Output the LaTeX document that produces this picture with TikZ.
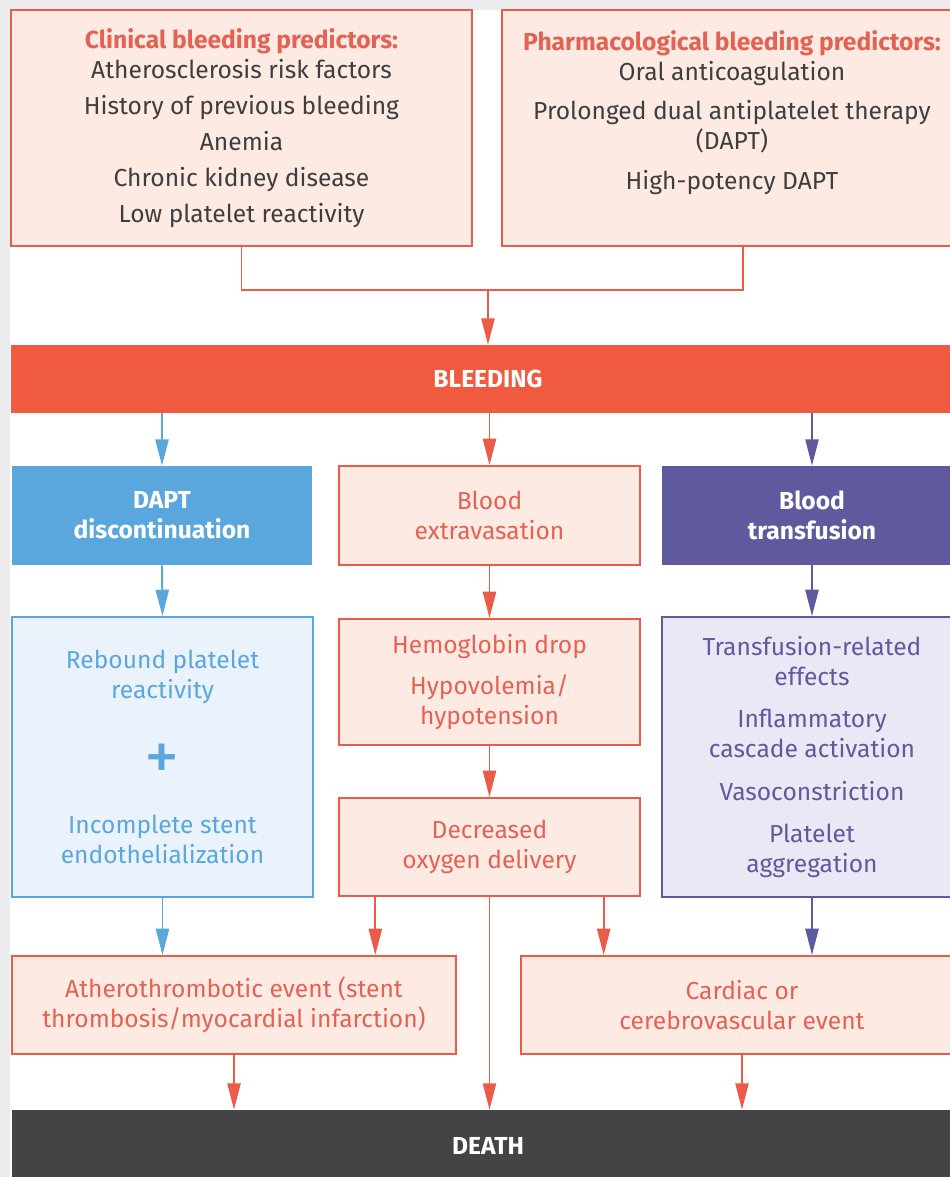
\documentclass[tikz,border=0pt]{standalone}
\usepackage{fontspec}
\setmainfont{Fira Sans}
\usetikzlibrary{calc,arrows.meta}
\definecolor{bleedRed}{RGB}{240,91,64}
\definecolor{lineRed}{RGB}{234,92,72}
\definecolor{textRed}{RGB}{228,98,84}
\definecolor{peachFill}{RGB}{253,235,227}
\definecolor{daptBlue}{RGB}{90,167,221}
\definecolor{paleBlue}{RGB}{234,243,251}
\definecolor{transPurple}{RGB}{95,90,158}
\definecolor{paleLilac}{RGB}{234,232,244}
\definecolor{inkGray}{RGB}{62,62,64}
\definecolor{deathGray}{RGB}{68,68,70}
\definecolor{pageGray}{RGB}{236,236,238}
\newcommand{\BoxFont}{\fontsize{14}{17}\selectfont}

\begin{document}
\begin{tikzpicture}[x=0.02cm,y=-0.02cm,
  every node/.style={font=\BoxFont,align=center,inner sep=0pt},
  peachbox/.style={draw=lineRed,fill=peachFill,line width=1.1pt,text=textRed},
  bluebox/.style={draw=daptBlue,fill=paleBlue,line width=1.1pt,text=daptBlue},
  lilacbox/.style={draw=transPurple,fill=paleLilac,line width=1.1pt,text=transPurple},
  solidbox/.style={fill=#1,text=white,font=\BoxFont\bfseries},
  redline/.style={draw=lineRed,line width=1.1pt},
  redarrow/.style={redline,-{Triangle[length=15pt,width=7.5pt]}},
  bluearrow/.style={draw=daptBlue,line width=1.1pt,-{Triangle[length=15pt,width=7.5pt]}},
  purparrow/.style={draw=transPurple,line width=1.1pt,-{Triangle[length=15pt,width=7.5pt]}}]
\useasboundingbox (0,0) rectangle (950,1177);
\fill[pageGray] (0,0) rectangle (950,1177);
\fill[white] (10,10) rectangle (950,1177);

\node[peachbox,minimum width=9.22cm,minimum height=4.72cm] (clin) at (241.5,128)
  {{\bfseries Clinical bleeding predictors:}\\[0pt]
   \textcolor{inkGray}{Atherosclerosis risk factors}\\[3.5pt]
   \textcolor{inkGray}{History of previous bleeding}\\[3.5pt]
   \textcolor{inkGray}{Anemia}\\[3.5pt]
   \textcolor{inkGray}{Chronic kidney disease}\\[3.5pt]
   \textcolor{inkGray}{Low platelet reactivity}};
\node[peachbox,minimum width=9.2cm,minimum height=4.72cm] (pharm) at (732,128) {};
\node[text=textRed,anchor=north] (pharmtxt) at (732,30)
  {{\bfseries Pharmacological bleeding predictors:}\\[0pt]
   \textcolor{inkGray}{Oral anticoagulation}\\[5.5pt]
   \textcolor{inkGray}{Prolonged dual antiplatelet therapy}\\
   \textcolor{inkGray}{(DAPT)}\\[5.5pt]
   \textcolor{inkGray}{High-potency DAPT}};

\node[solidbox=bleedRed,minimum width=19.08cm,minimum height=1.36cm] (bleed) at (488,379) {BLEEDING};

\node[solidbox=daptBlue,minimum width=6cm,minimum height=1.98cm] (dapt) at (162,515.5) {DAPT\\discontinuation};
\node[peachbox,minimum width=6.02cm,minimum height=1.98cm] (extrav) at (489.5,515.5) {Blood\\extravasation};
\node[solidbox=transPurple,minimum width=6cm,minimum height=1.98cm] (transf) at (812,515.5) {Blood\\transfusion};

\node[bluebox,minimum width=6.02cm,minimum height=5.6cm] (rebound) at (162.5,757)
  {Rebound platelet\\reactivity\\[22pt]
   {\fontsize{40}{17}\selectfont +}\\[13pt]
   Incomplete stent\\endothelialization};
\node[peachbox,minimum width=6.02cm,minimum height=2.52cm] (hemo) at (489.5,682)
  {Hemoglobin drop\\[6pt]Hypovolemia/\\hypotension};
\node[peachbox,minimum width=6.02cm,minimum height=1.96cm] (decr) at (489.5,847)
  {Decreased\\oxygen delivery};
\node[lilacbox,minimum width=6cm,minimum height=5.6cm] (transeff) at (812,757)
  {Transfusion-related\\effects\\[7pt]Inflammatory\\cascade activation\\[7pt]
   Vasoconstriction\\[7pt]Platelet\\aggregation};

\node[peachbox,minimum width=8.88cm,minimum height=1.96cm] (athero) at (234,1005)
  {Atherothrombotic event (stent\\thrombosis/myocardial infarction)};
\node[peachbox,minimum width=8.84cm,minimum height=1.96cm] (cardiac) at (742,1005)
  {Cardiac or\\cerebrovascular event};

\node[solidbox=deathGray,minimum width=19.04cm,minimum height=1.44cm] (death) at (488,1146) {DEATH};

\coordinate (join) at (488,290);
\coordinate (rjoin) at (743,290);
\draw[redline] (clin.south) |- (rjoin) -- (rjoin |- pharm.south);
\draw[redarrow] (join) -- (join |- bleed.north);

\draw[bluearrow] (dapt.north |- bleed.south) -- (dapt.north);
\draw[redarrow] (extrav.north |- bleed.south) -- (extrav.north);
\draw[purparrow] (transf.north |- bleed.south) -- (transf.north);

\draw[bluearrow] (dapt.south) -- (rebound.north);
\draw[redarrow] (extrav.south) -- (hemo.north);
\draw[redarrow] (hemo.south) -- (decr.north);
\draw[purparrow] (transf.south) -- (transeff.north);

\coordinate (dleft) at ($(decr.south west)!.123!(decr.south east)$);
\coordinate (dright) at ($(decr.south west)!.877!(decr.south east)$);
\draw[bluearrow] (rebound.south) -- (rebound.south |- athero.north);
\draw[redarrow] (dleft) -- (dleft |- athero.north);
\draw[redarrow] (decr.south) -- (decr.south |- death.north);
\draw[redarrow] (dright) -- (dright |- cardiac.north);
\draw[purparrow] (transeff.south) -- (transeff.south |- cardiac.north);

\draw[redarrow] (athero.south) -- (athero.south |- death.north);
\draw[redarrow] (cardiac.south) -- (cardiac.south |- death.north);
\end{tikzpicture}
\end{document}
